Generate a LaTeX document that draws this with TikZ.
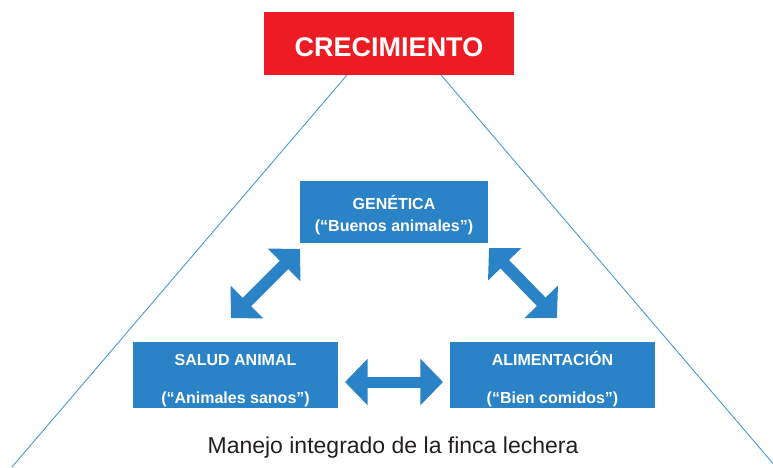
\documentclass[tikz,border=0pt]{standalone}
\usepackage{fontspec}
\setmainfont{Liberation Sans}
\usetikzlibrary{arrows.meta,calc}
\definecolor{cred}{HTML}{ED1C24}
\definecolor{cblue}{HTML}{2A83C7}
\definecolor{cline}{HTML}{4A98DA}
\definecolor{ctext}{HTML}{231F20}
\begin{document}
\begin{tikzpicture}[x=1pt,y=-1pt,
  bluebox/.style={fill=cblue,draw=none,inner sep=0pt,outer sep=0pt},
  boxtxt/.style={text=white,font=\fontsize{16}{16}\selectfont\bfseries,inner sep=0pt,anchor=base},
  guide/.style={draw=cline,line width=0.9pt},
  bigarrow/.style={draw=cblue,line width=12pt,
    {Triangle[length=22.6pt,width=45.2pt]}-{Triangle[length=22.6pt,width=45.2pt]}}]
\useasboundingbox (0,0) rectangle (773,467);
% guide lines (drawn first, behind)
\node[fill=cred,minimum width=250pt,minimum height=63pt,inner sep=0pt,outer sep=0pt,
  text=white,font=\fontsize{27}{27}\selectfont\bfseries,text height=25pt,text depth=0pt]
  (crec) at (389,43.5) {CRECIMIENTO};
\coordinate (tl) at ($(crec.south west)+(83,0)$);
\coordinate (tr) at ($(crec.south west)+(177,0)$);
\coordinate (bl) at (12,467);
\coordinate (br) at (776,467);
\draw[guide] (tl) -- (bl);
\draw[guide] (tr) -- (br);
% boxes
\node[bluebox,minimum width=188pt,minimum height=62pt] (gen) at (394,212) {};
\node[boxtxt] (gen1) at (394,209.2) {GENÉTICA};
\node[boxtxt] (gen2) at (394,231.2) {(“Buenos animales”)};
\node[bluebox,minimum width=205pt,minimum height=66pt] (sal) at (235.5,375) {};
\node[boxtxt] (sal1) at (235.5,365.2) {SALUD ANIMAL};
\node[boxtxt] (sal2) at (235.5,403.2) {(“Animales sanos”)};
\node[bluebox,minimum width=205pt,minimum height=66pt] (ali) at (552.5,375) {};
\node[boxtxt] (ali1) at (552.5,365.2) {ALIMENTACIÓN};
\node[boxtxt] (ali2) at (552.5,403.2) {(“Bien comidos”)};
% arrows
\coordinate (a1) at ($(gen.south west)+(0,6)$);
\coordinate (a2) at ($(sal.north west)+(98,-24)$);
\coordinate (b1) at ($(gen.south east)+(1,5)$);
\coordinate (b2) at ($(ali.north west)+(107,-24)$);
\coordinate (c1) at ($(sal.east)+(7,7)$);
\coordinate (c2) at ($(ali.west)+(-7,7)$);
\draw[bigarrow] (a2) -- (a1);
\draw[bigarrow] (b1) -- (b2);
\draw[bigarrow,line width=11pt] (c1) -- (c2);
% caption
\node[text=ctext,font=\fontsize{23}{23}\selectfont,anchor=base,inner sep=0pt]
  (cap) at (393,453) {Manejo integrado de la finca lechera};
\end{tikzpicture}
\end{document}
